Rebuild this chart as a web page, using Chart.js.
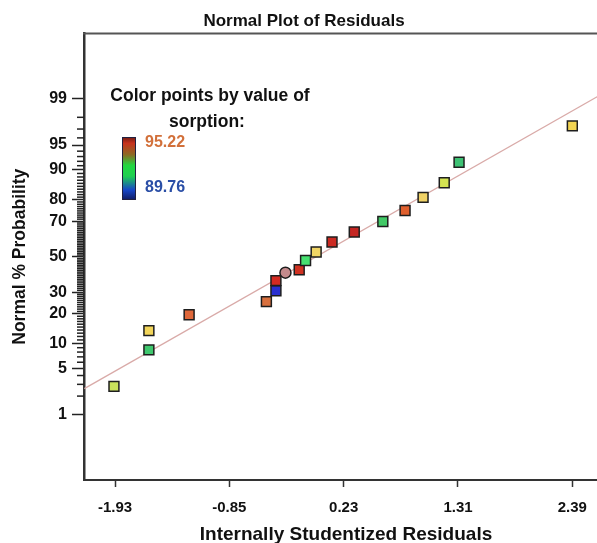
<!DOCTYPE html>
<html>
<head>
<meta charset="utf-8">
<script src="https://cdn.jsdelivr.net/npm/chart.js@4.4.1/dist/chart.umd.min.js"></script>
<style>
  html, body { margin: 0; padding: 0; background: #fff; overflow: hidden; }
  #wrap { width: 597px; height: 543px; overflow: hidden; }
  canvas { display: block; }
</style>
</head>
<body>
<div id="wrap"><canvas id="normalPlot" width="632" height="543"></canvas></div>
<script>
// residuals and their normal % probability
const residuals = [-1.94, -1.61, -1.61, -1.23, -0.50, -0.41, -0.41, -0.32, -0.19, -0.13,
                   -0.03, 0.12, 0.33, 0.60, 0.81, 0.98, 1.18, 1.32, 2.39];
const probability = [2.8, 8.5, 13.8, 19.6, 25.4, 30.8, 36.2, 40.7, 42.4, 47.8,
                     52.8, 58.6, 64.2, 69.8, 75.2, 80.9, 86.2, 91.8, 97.3];
// colour of each point (by sorption value)
const pointColors = ["#c9e15c", "#3fc86e", "#f2d55a", "#e0683a", "#d8703e", "#2a2fd0", "#d42a22",
                     "#c48a8c", "#d03222", "#46e070", "#f0d464", "#cc2a22", "#c42622", "#42c866",
                     "#e0602e", "#f0d266", "#d4e452", "#3ec274", "#f2d452"];
// fitted reference line (two ends)
const lineX = [-2.22, 2.72];
const lineP = [2.6, 99.27];

const xTicks = [-1.93, -0.85, 0.23, 1.31, 2.39];
const yTicks = [1, 5, 10, 20, 30, 50, 70, 80, 90, 95, 99];

const FONT = "'Liberation Sans', Arial, Helvetica, sans-serif";

// inverse of the standard normal cdf (Acklam)
function probit(p) {
  const a = [-39.69683028665376, 220.9460984245205, -275.9285104469687, 138.3577518672690, -30.66479806614716, 2.506628277459239];
  const b = [-54.47609879822406, 161.5858368580409, -155.6989798598866, 66.80131188771972, -13.28068155288572];
  const c = [-0.007784894002430293, -0.3223964580411365, -2.400758277161838, -2.549732539343734, 4.374664141464968, 2.938163982698783];
  const d = [0.007784695709041462, 0.3224671290700398, 2.445134137142996, 3.754408661907416];
  const pl = 0.02425;
  let q, r;
  if (p < pl) {
    q = Math.sqrt(-2 * Math.log(p));
    return (((((c[0]*q+c[1])*q+c[2])*q+c[3])*q+c[4])*q+c[5]) / ((((d[0]*q+d[1])*q+d[2])*q+d[3])*q+1);
  }
  if (p > 1 - pl) {
    q = Math.sqrt(-2 * Math.log(1 - p));
    return -(((((c[0]*q+c[1])*q+c[2])*q+c[3])*q+c[4])*q+c[5]) / ((((d[0]*q+d[1])*q+d[2])*q+d[3])*q+1);
  }
  q = p - 0.5;
  r = q * q;
  return (((((a[0]*r+a[1])*r+a[2])*r+a[3])*r+a[4])*r+a[5])*q / (((((b[0]*r+b[1])*r+b[2])*r+b[3])*r+b[4])*r+1);
}

const points = residuals.map((x, i) => ({ x: x, y: probit(probability[i] / 100) }));
const refLine = lineX.map((x, i) => ({ x: x, y: probit(lineP[i] / 100) }));

// minor ticks on the probability axis, top frame line, colour key
const extras = {
  id: "extras",
  afterDraw(chart) {
    const ctx = chart.ctx;
    const area = chart.chartArea;
    const ys = chart.scales.y;
    ctx.save();

    ctx.strokeStyle = "#222";
    ctx.lineWidth = 1.5;
    for (let p = 1; p <= 99; p++) {
      if (yTicks.includes(p)) continue;
      const py = ys.getPixelForValue(probit(p / 100));
      ctx.beginPath();
      ctx.moveTo(area.left - 7, py);
      ctx.lineTo(area.left, py);
      ctx.stroke();
    }

    ctx.strokeStyle = "#555";
    ctx.lineWidth = 2;
    ctx.beginPath();
    ctx.moveTo(area.left - 1, area.top);
    ctx.lineTo(chart.width, area.top);
    ctx.stroke();

    // colour key
    ctx.fillStyle = "#111";
    ctx.font = "bold 17.5px " + FONT;
    ctx.textAlign = "center";
    ctx.textBaseline = "middle";
    ctx.fillText("Color points by value of", 210, 96);
    ctx.fillText("sorption:", 207, 122);

    const g = ctx.createLinearGradient(0, 137, 0, 200);
    g.addColorStop(0, "#6e1a12");
    g.addColorStop(0.1, "#c8321e");
    g.addColorStop(0.28, "#8c6a24");
    g.addColorStop(0.45, "#22d640");
    g.addColorStop(0.62, "#1ed050");
    g.addColorStop(0.84, "#1646c8");
    g.addColorStop(1, "#101a60");
    ctx.fillStyle = g;
    ctx.fillRect(122, 137, 14, 63);
    ctx.strokeStyle = "#202040";
    ctx.lineWidth = 1;
    ctx.strokeRect(122.5, 137.5, 13, 62);

    ctx.font = "bold 16px " + FONT;
    ctx.textAlign = "left";
    ctx.fillStyle = "#d2703a";
    ctx.fillText("95.22", 145, 143);
    ctx.fillStyle = "#2a4ea6";
    ctx.fillText("89.76", 145, 188);
    ctx.restore();
  }
};

const ctx = document.getElementById("normalPlot").getContext("2d");
new Chart(ctx, {
  type: "scatter",
  data: {
    datasets: [
      {
        data: points,
        backgroundColor: pointColors,
        borderColor: "#1e1e1e",
        borderWidth: 1.5,
        pointStyle: points.map((p, i) => (i === 7 ? "circle" : "rect")),
        pointRadius: points.map((p, i) => (i === 7 ? 5.5 : 7)),
        order: 1
      },
      {
        type: "line",
        data: refLine,
        borderColor: "#d9aaa8",
        borderWidth: 1.3,
        pointRadius: 0,
        fill: false,
        order: 2
      }
    ]
  },
  options: {
    responsive: false,
    animation: false,
    devicePixelRatio: 1,
    layout: { padding: { left: 0, right: 24, top: 0, bottom: 0 } },
    plugins: {
      legend: { display: false },
      tooltip: { enabled: false },
      title: {
        display: true,
        text: "Normal Plot of Residuals",
        color: "#111",
        font: { family: FONT, size: 17, weight: "bold", lineHeight: 1.2 },
        padding: { top: 11, bottom: 2 }
      }
    },
    scales: {
      x: {
        type: "linear",
        min: -2.223,
        max: 2.727,
        afterFit: (s) => { s.height = 63; },
        afterBuildTicks: (s) => { s.ticks = xTicks.map(v => ({ value: v })); },
        grid: { drawOnChartArea: false, tickLength: 7, tickColor: "#333", tickWidth: 1.5 },
        border: { color: "#333", width: 2 },
        ticks: {
          color: "#111",
          font: { family: FONT, size: 15, weight: "bold" },
          padding: 12,
          autoSkip: false,
          maxRotation: 0,
          callback: (v) => v.toFixed(2)
        },
        title: {
          display: true,
          text: "Internally Studentized Residuals",
          color: "#111",
          font: { family: FONT, size: 19, weight: "bold" },
          padding: { top: 0, bottom: -3 }
        }
      },
      y: {
        type: "linear",
        min: -3.29,
        max: 3.29,
        afterFit: (s) => { s.width = 84; },
        afterBuildTicks: (s) => { s.ticks = yTicks.map(p => ({ value: probit(p / 100) })); },
        grid: { drawOnChartArea: false, tickLength: 12, tickColor: "#222", tickWidth: 1.5 },
        border: { color: "#333", width: 2.5 },
        ticks: {
          color: "#111",
          font: { family: FONT, size: 16, weight: "bold" },
          padding: 5,
          autoSkip: false,
          callback: (v, i) => String(yTicks[i])
        },
        title: {
          display: true,
          text: "Normal % Probability",
          color: "#111",
          font: { family: FONT, size: 17.5, weight: "bold" },
          padding: { top: 10, bottom: 0 }
        }
      }
    }
  },
  plugins: [extras]
});
</script>
</body>
</html>
